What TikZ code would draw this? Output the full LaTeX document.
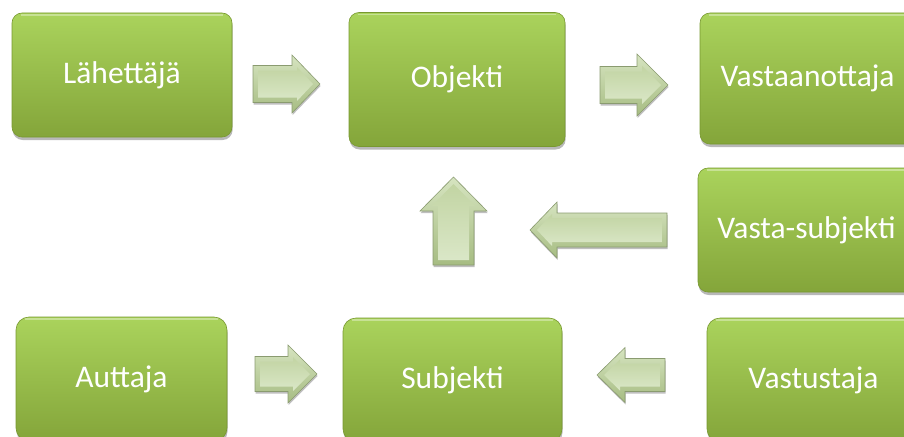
\documentclass[tikz,border=0pt]{standalone}
\usepackage{fontspec}
\setmainfont{Carlito}
\usetikzlibrary{shadows}
\definecolor{boxtop}{HTML}{AAD35C}
\definecolor{boxbot}{HTML}{84A53A}
\definecolor{boxline}{HTML}{789830}
\definecolor{arrline}{HTML}{8A9B70}
\definecolor{arrtop}{HTML}{D6E4C0}
\definecolor{arrbot}{HTML}{A6BC82}
\definecolor{facetop}{HTML}{C2D4A3}
\definecolor{facebot}{HTML}{DAE7C7}
\tikzset{
  box/.style={rectangle, rounded corners=10pt, top color=boxtop, bottom color=boxbot,
    draw=boxline, line width=0.6pt, text=white, inner sep=0pt,
    font=\fontsize{31.5}{36}\selectfont,
    drop shadow={shadow xshift=0.6pt, shadow yshift=-3pt, opacity=0.28, fill=black},
    path picture={\draw[white, opacity=0.35, line width=1.6pt]
      ([xshift=9pt,yshift=-2.2pt]path picture bounding box.north west) --
      ([xshift=-9pt,yshift=-2.2pt]path picture bounding box.north east);}},
  arrowout/.style={top color=arrtop, bottom color=arrbot, draw=arrline, line width=0.6pt,
    drop shadow={shadow xshift=0.6pt, shadow yshift=-2pt, opacity=0.25, fill=black}},
  arrowin/.style={top color=facetop, bottom color=facebot}
}
% #1 transform, #2 tip, #3 length, #4 head half width, #5 shaft half width, #6 head length
\newcommand{\blockarrow}[6]{%
  \begin{scope}[shift={(#2)},#1]
    \path[arrowout] (0,0) -- (-#6,#4) -- (-#6,#5) -- (-#3,#5) -- (-#3,-#5) -- (-#6,-#5) -- (-#6,-#4) -- cycle;
    \path[arrowin] (-7,0) -- (-#6+5,#4-12) -- (-#6+5,#5-5) -- (-#3+5,#5-5) -- (-#3+5,-#5+5) -- (-#6+5,-#5+5) -- (-#6+5,-#4+12) -- cycle;
  \end{scope}}
\begin{document}
\begin{tikzpicture}[x=1pt,y=-1pt]
  \useasboundingbox (0,0) rectangle (904,436);
  \clip (0,0) rectangle (904,436);
  % boxes
  \node[box, minimum width=220pt, minimum height=124pt] (lah) at (122,75) {Lähettäjä};
  \node[box, minimum width=216pt, minimum height=134pt] (obj) at (457,79.5) {Objekti};
  \node[box, minimum width=215pt, minimum height=131pt] (vas) at (807.5,78.5) {Vastaanottaja};
  \node[box, minimum width=217pt, minimum height=124pt] (vsu) at (806.5,230) {Vasta-subjekti};
  \node[box, rounded corners=13pt, minimum width=211pt, minimum height=124pt] (aut) at (121.5,379) {Auttaja};
  \node[box, rounded corners=13pt, minimum width=219pt, minimum height=124pt] (sub) at (452.5,380) {Subjekti};
  \node[box, rounded corners=13pt, minimum width=213pt, minimum height=124pt] (vst) at (813.5,380) {Vastustaja};
  % block arrows
  \blockarrow{}{320,84}{67}{29}{18.5}{28}
  \blockarrow{}{668,85}{68}{31}{18.5}{31}
  \blockarrow{rotate=90}{453.5,177}{88}{33.5}{20.5}{34}
  \blockarrow{xscale=-1}{530,230}{137}{28}{17}{27}
  \blockarrow{}{317,374}{62}{29}{17.5}{29}
  \blockarrow{xscale=-1}{597,375}{68}{27.5}{16.5}{28}
\end{tikzpicture}
\end{document}
